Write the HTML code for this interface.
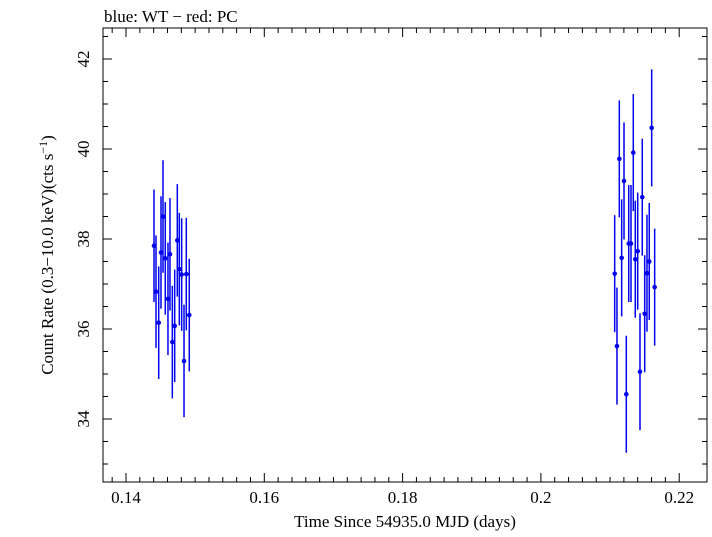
<!DOCTYPE html>
<html><head><meta charset="utf-8"><style>
html,body{margin:0;padding:0;background:#fff;}
svg text{font-family:"Liberation Serif",serif;fill:#000;}
</style></head><body>
<svg width="712" height="532" xmlns="http://www.w3.org/2000/svg">
<text x="104" y="22" font-size="17">blue: WT − red: PC</text>
<rect x="103" y="28" width="604" height="454" fill="none" stroke="#000" stroke-width="1"/>
<g id="axes"></g>
<g id="marks"></g>
<text x="405" y="527" font-size="17" text-anchor="middle">Time Since 54935.0 MJD (days)</text>
<text transform="translate(53,255) rotate(-90)" font-size="17" text-anchor="middle">Count Rate (0.3−10.0 keV)(cts s<tspan dy="-6" font-size="12">−1</tspan><tspan dy="6">)</tspan></text>
</svg>
<script>
const xTimes1=[0.14405,0.14434,0.14473,0.14506,0.14535,0.14568,0.14607,0.14636,0.1467,0.14704,0.14742,0.14771,0.14805,0.14839,0.14872,0.14915];
const yRates1=[37.85,36.83,36.14,37.70,38.50,37.57,36.67,37.66,35.71,36.07,37.97,37.33,37.21,35.29,37.22,36.31];
const xTimes2=[0.21067,0.21100,0.21134,0.21168,0.21202,0.21235,0.21270,0.21303,0.21336,0.21365,0.21400,0.21433,0.21466,0.21501,0.21534,0.21567,0.21602,0.21645];
const yRates2=[37.23,35.62,39.78,37.58,39.29,34.55,37.90,37.90,39.92,37.55,37.73,35.05,38.93,36.34,37.24,37.50,40.47,36.93];
const errSize=1.25;
const errSize2=1.3;
const xTicks=[0.14,0.16,0.18,0.2,0.22];
const xTickLabels=["0.14","0.16","0.18","0.2","0.22"];
const yTicks=[34,36,38,40,42];
const yTickLabels=["34","36","38","40","42"];
const NS="http://www.w3.org/2000/svg";
const L=103,R=707,T=28,B=482;
function xs(v){return 126+(v-0.14)*6915;}
function ys(v){return 59+(42-v)*45;}
const axes=document.getElementById('axes');
const marks=document.getElementById('marks');
function mk(tag,attrs,parent){const e=document.createElementNS(NS,tag);for(const k in attrs)e.setAttribute(k,attrs[k]);parent.appendChild(e);return e;}
for(let v=0.136;v<=0.2201;v+=0.002){const x=xs(v);if(x<L||x>R)continue;const major=Math.abs(Math.round(v*50)-v*50)<1e-6;const len=major?9:5;
 const t=mk('path',{d:`M${x},${B}V${B-len}M${x},${T}V${T+len}`,stroke:'#000','stroke-width':1},axes);
 
 }
xTicks.forEach((v,i)=>{const t=mk('text',{x:xs(v),y:503,'font-size':17,'text-anchor':'middle'},axes);t.textContent=xTickLabels[i];
 
 });
for(let v=33;v<=42.6;v+=0.5){const y=ys(v);if(y<T||y>B)continue;const major=Math.abs(v/2-Math.round(v/2))<1e-6;const len=major?9:5;
 const t=mk('path',{d:`M${L},${y}H${L+len}M${R},${y}H${R-len}`,stroke:'#000','stroke-width':1},axes);
 
 }
yTicks.forEach((v,i)=>{const y=ys(v);const t=mk('text',{transform:`translate(89,${y}) rotate(-90)`,'font-size':17,'text-anchor':'middle'},axes);t.textContent=yTickLabels[i];
 
 });
function series(xsArr,ysArr,err,name){xsArr.forEach((xv,i)=>{const x=xs(xv),y=ys(ysArr[i]);
 const l=mk('line',{x1:x,x2:x,y1:ys(ysArr[i]+err),y2:ys(ysArr[i]-err),stroke:'#0000ee','stroke-width':1.5},marks);
 
 
 const c=mk('circle',{cx:x,cy:y,r:2.3,fill:'#0000ee'},marks);
 
 });}
series(xTimes1,yRates1,errSize,'wt-early');
series(xTimes2,yRates2,errSize2,'wt-late');
</script>
</body></html>
